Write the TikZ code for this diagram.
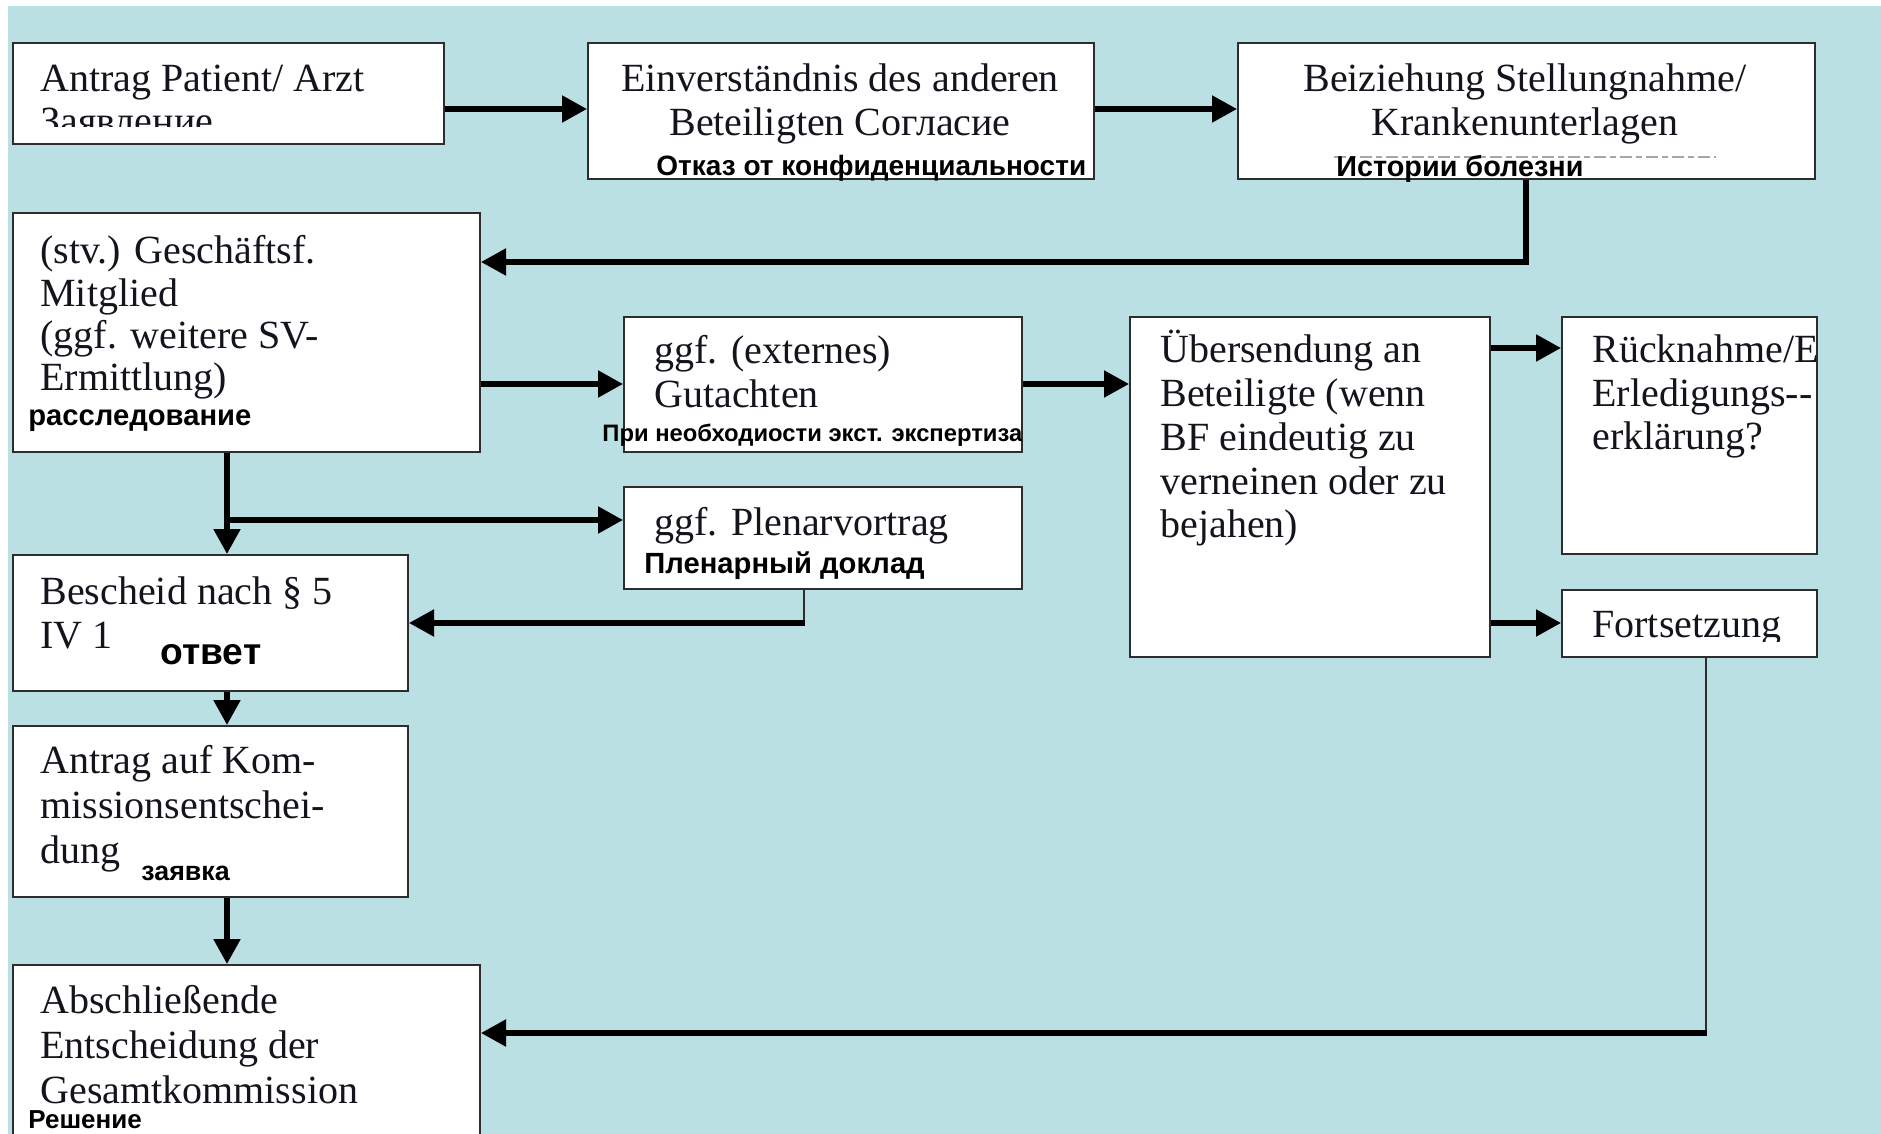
\documentclass[tikz,border=0pt]{standalone}
\usepackage{fontspec}
\setmainfont{Liberation Serif}
\newfontfamily\rus{Liberation Sans}
\usetikzlibrary{arrows.meta}
\definecolor{bgblue}{RGB}{187,224,228}
\definecolor{boxline}{RGB}{45,45,45}
\definecolor{txt}{RGB}{20,20,28}
\begin{document}
\begin{tikzpicture}[x=0.5pt,y=-0.5pt,
 box/.style={draw=boxline,fill=white,line width=1pt,inner sep=0pt,anchor=north west},
 serif/.style={font=\fontsize{20}{21.5}\selectfont,text=txt,inner sep=0pt,align=left},
 labs/.style={inner sep=0pt,anchor=base west,text=black,font=\rus\bfseries\fontsize{#1}{#1}\selectfont},
 thickline/.style={line width=2.6pt,draw=black},
 arr/.style={thickline,-{Triangle[length=12.5pt,width=13pt]}},
 thinline/.style={line width=1.2pt,draw=boxline}]
\useasboundingbox (0,0) rectangle (1881,1134);
\clip (0,0) rectangle (1881,1134);
\fill[white] (0,0) rectangle (1881,1134);
\fill[bgblue] (8,6) rectangle (1881,1134);

% boxes
\node[box,minimum width=215.5pt,minimum height=50.5pt] (b1) at (12,42) {};
\node[box,minimum width=253pt,minimum height=68pt] (b2) at (587,42) {};
\node[box,minimum width=288.5pt,minimum height=68pt] (b3) at (1237,42) {};
\node[box,minimum width=233.5pt,minimum height=119.5pt] (b4) at (12,212) {};
\node[box,minimum width=199pt,minimum height=67.5pt] (b5) at (623,316) {};
\node[box,minimum width=180pt,minimum height=170pt] (b6) at (1129,316) {};
\node[box,minimum width=127.5pt,minimum height=118.5pt] (b7) at (1561,316) {};
\node[box,minimum width=127.5pt,minimum height=33.5pt] (b8) at (1561,589) {};
\node[box,minimum width=197.5pt,minimum height=68pt] (b9) at (12,554) {};
\node[box,minimum width=199pt,minimum height=51pt] (b10) at (623,486) {};
\node[box,minimum width=197.5pt,minimum height=85.5pt] (b12) at (12,725) {};
\node[box,minimum width=233.5pt,minimum height=93pt] (b11) at (12,964) {};

% texts (multi-line nodes: base = baseline of last line)
\node[serif,anchor=base west] (t1) at (40,92) {Antrag Patient/ Arzt};
\begin{scope}
\clip (12,42) rectangle (443,127);
\node[serif,anchor=base west] (t1b) at (40,135) {Заявление};
\end{scope}
\node[serif,anchor=base,align=center,font=\fontsize{20}{22}\selectfont] (t2) at (840,136) {Einverständnis des anderen\\Beteiligten Согласие};
\node[serif,anchor=base,align=center,font=\fontsize{20}{22}\selectfont] (t3) at (1525,136) {Beiziehung Stellungnahme/\\Krankenunterlagen};
\draw[gray!70,line width=1.2pt,dash pattern=on 6pt off 2pt on 3pt off 2pt] (1334,157) -- (1716,157);
\node[serif,anchor=base west,font=\fontsize{20}{21.2}\selectfont] (t4) at (40,391) {(stv.) Geschäftsf.\\Mitglied\\(ggf. weitere SV-\\Ermittlung)};
\node[serif,anchor=base west,font=\fontsize{20}{22}\selectfont] (t5) at (654,408) {ggf. (externes)\\Gutachten};
\node[serif,anchor=base west] (t10) at (654,535) {ggf. Plenarvortrag};
\node[serif,anchor=base west,font=\fontsize{20}{21.9}\selectfont] (t6) at (1160,538) {Übersendung an\\Beteiligte (wenn\\BF eindeutig zu\\verneinen oder zu\\bejahen)};
\begin{scope}
\clip (1561,316) rectangle (1815,553);
\node[serif,anchor=base west,font=\fontsize{20}{21.9}\selectfont] (t7) at (1592,450) {Rücknahme/E\\Erledigungs-{}-\\erklärung?};
\end{scope}
\begin{scope}
\clip (1561,589) rectangle (1816,641);
\node[serif,anchor=base west] (t8) at (1592,637) {Fortsetzung};
\end{scope}
\node[serif,anchor=base west,font=\fontsize{20}{22}\selectfont] (t9) at (40,648) {Bescheid nach § 5\\IV 1};
\node[serif,anchor=base west,font=\fontsize{20}{22.3}\selectfont] (t12) at (40,863) {Antrag auf Kom-\\missionsentschei-\\dung};
\node[serif,anchor=base west,font=\fontsize{20}{22.3}\selectfont] (t11) at (40,1103) {Abschließende\\Entscheidung der\\Gesamtkommission};

% russian labels
\node[labs=14] (r2) at (656,176) {Отказ от конфиденциальности};
\node[labs=14.4] (r3) at (1336,177) {Истории болезни};
\node[labs=14.6] (r4) at (28,425) {расследование};
\node[labs=11.9] (r5) at (602,442) {При необходиости экст. экспертиза};
\node[labs=14.6] (r10) at (644,573) {Пленарный доклад};
\node[labs=18.6] (r9) at (160,664) {ответ};
\node[labs=13.4] (r12) at (141,880) {заявка};
\node[labs=13] (r11) at (28,1128) {Решение};

% connectors
\coordinate (y12) at (0,109);
\draw[arr] (b1.east |- y12) -- (b2.west |- y12);
\draw[arr] (b2.east |- y12) -- (b3.west |- y12);
\coordinate (c3) at (1526,262);
\draw[arr] (b3.south -| c3) -- (c3) -- (b4.east |- c3);
\coordinate (y45) at (0,384);
\draw[arr] (b4.east |- y45) -- (b5.west |- y45);
\draw[arr] (b5.east |- y45) -- (b6.west |- y45);
\coordinate (y67) at (0,348);
\draw[arr] (b6.east |- y67) -- (b7.west |- y67);
\coordinate (y68) at (0,623);
\draw[arr] (b6.east |- y68) -- (b8.west |- y68);
\coordinate (c8) at (1706,1033);
\draw[thinline] (b8.south -| c8) -- (c8);
\draw[arr] ([xshift=0.6pt]c8) -- (b11.east |- c8);
\coordinate (j1) at (227,520);
\draw[arr] (b4.south -| j1) -- (b9.north -| j1);
\draw[arr] (j1) -- (b10.west |- j1);
\coordinate (c10) at (804,623);
\draw[thinline] (b10.south -| c10) -- (c10);
\draw[arr] ([xshift=0.6pt]c10) -- (b9.east |- c10);
\draw[arr] (b9.south -| j1) -- (b12.north -| j1);
\draw[arr] (b12.south -| j1) -- (b11.north -| j1);
\end{tikzpicture}
\end{document}
